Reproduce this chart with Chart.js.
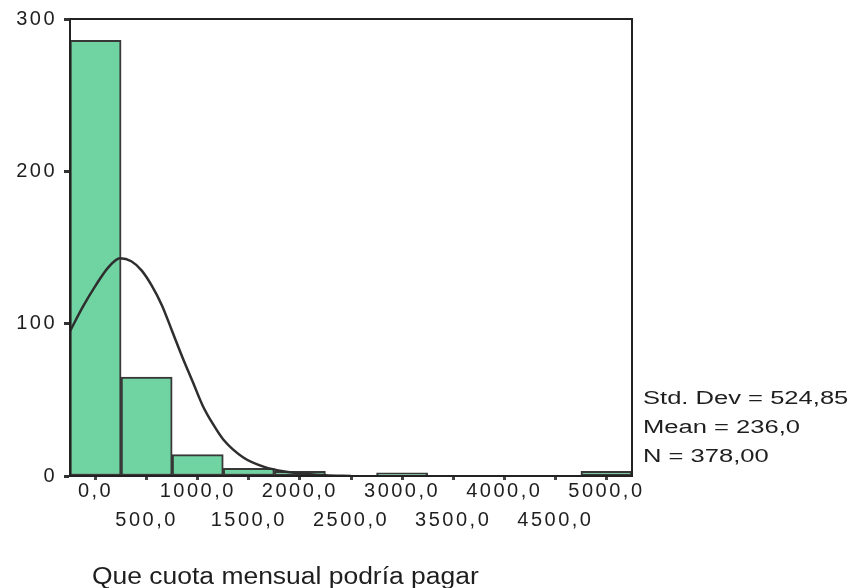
<!DOCTYPE html>
<html>
<head>
<meta charset="utf-8">
<script src="https://cdn.jsdelivr.net/npm/chart.js@4"></script>
<style>
  body { margin: 0; background: #fff; }
  canvas { display: block; }
</style>
</head>
<body>
<canvas id="histChart" width="858" height="588"></canvas>
<script>
// bin centres and counts
var binCenters = [0, 500, 1000, 1500, 2000, 2500, 3000, 3500, 4000, 4500, 5000];
var binCounts = [286, 65, 14, 5, 3, 0, 2, 0, 0, 0, 3];

// normal curve, points
var curveX = [-250, -125, 0, 125, 240, 350, 450, 550, 650, 750, 850, 950, 1050, 1150, 1250, 1450, 1650, 1850, 2050, 2250, 2500];
var curveY = [95, 111, 125, 137, 143, 141, 135, 125, 112, 95, 78, 62, 46, 34, 24, 12, 6, 3, 1.5, 0.5, 0];

var xTicks = [0, 500, 1000, 1500, 2000, 2500, 3000, 3500, 4000, 4500, 5000];
var xTickLabels = ['0,0', '500,0', '1000,0', '1500,0', '2000,0', '2500,0', '3000,0', '3500,0', '4000,0', '4500,0', '5000,0'];
var yTicks = [0, 100, 200, 300];

var statsLines = ['Std. Dev = 524,85', 'Mean = 236,0', 'N = 378,00'];
var axisTitle = 'Que cuota mensual podría pagar';

var fontFamily = '"Liberation Sans", Arial, sans-serif';

// stretch the tick text a bit, the scan is wider than plain Arial
var spacingPlugin = {
    id: 'spacing',
    beforeDraw: function (chart) { chart.ctx.letterSpacing = '2.5px'; },
    afterDraw: function (chart) { chart.ctx.letterSpacing = '0px'; }
};

var framePlugin = {
    id: 'frame',
    afterDatasetsDraw: function (chart) {
        var a = chart.chartArea;
        var ctx = chart.ctx;
        ctx.save();
        ctx.strokeStyle = '#222';
        ctx.lineWidth = 2;
        ctx.strokeRect(a.left, a.top, a.right - a.left, a.bottom - a.top);
        ctx.restore();
    }
};

var textPlugin = {
    id: 'sideText',
    afterDraw: function (chart) {
        var ctx = chart.ctx;
        ctx.save();
        ctx.letterSpacing = '0px';
        ctx.fillStyle = '#1e1e1e';
        ctx.textBaseline = 'alphabetic';
        ctx.font = '18px ' + fontFamily;
        statsLines.forEach(function (line, i) {
            ctx.save();
            ctx.translate(643, 404 + i * 29);
            ctx.scale(1.42, 1);
            ctx.fillText(line, 0, 0);
            ctx.restore();
        });
        ctx.font = '23px ' + fontFamily;
        ctx.translate(92, 584);
        ctx.scale(1.15, 1);
        ctx.fillText(axisTitle, 0, 0);
        ctx.restore();
    }
};

var ctx = document.getElementById('histChart').getContext('2d');
var histChart = new Chart(ctx, {
    type: 'bar',
    data: {
        datasets: [{
            type: 'line',
            order: 0,
            data: curveX.map(function (x, i) { return { x: x, y: curveY[i] }; }),
            borderColor: '#2e2e2e',
            borderWidth: 2.5,
            pointRadius: 0,
            fill: false,
            cubicInterpolationMode: 'monotone'
        }, {
            type: 'bar',
            order: 1,
            data: binCenters.map(function (x, i) { return { x: x, y: binCounts[i] }; }),
            backgroundColor: '#70d4a2',
            borderColor: '#383838',
            borderWidth: 2,
            borderSkipped: false,
            categoryPercentage: 1.0,
            barPercentage: 1.0
        }]
    },
    options: {
        responsive: false,
        animation: false,
        layout: { padding: { top: 17, right: 226, left: 0, bottom: 0 } },
        plugins: {
            legend: { display: false },
            tooltip: { enabled: false }
        },
        scales: {
            x: {
                type: 'linear',
                offset: false,
                min: -250,
                max: 5250,
                afterFit: function (scale) { scale.height = 112; },
                afterBuildTicks: function (scale) {
                    scale.ticks = xTicks.map(function (v) { return { value: v }; });
                },
                grid: { offset: false, drawOnChartArea: false, tickLength: 4, tickWidth: 3, tickColor: '#444' },
                border: { display: true, color: '#222', width: 2 },
                ticks: {
                    autoSkip: false,
                    maxRotation: 0,
                    padding: -3,
                    color: '#1e1e1e',
                    font: { family: fontFamily, size: 20, lineHeight: 1.45 },
                    callback: function (value, index) {
                        var label = xTickLabels[index];
                        return index % 2 === 0 ? [label, ''] : ['', label];
                    }
                }
            },
            y: {
                min: 0,
                max: 300,
                afterFit: function (scale) { scale.width = 70; },
                afterBuildTicks: function (scale) {
                    scale.ticks = yTicks.map(function (v) { return { value: v }; });
                },
                grid: { drawOnChartArea: false, tickLength: 6, tickWidth: 3, tickColor: '#333' },
                border: { display: true, color: '#222', width: 2 },
                ticks: {
                    padding: 7,
                    color: '#1e1e1e',
                    font: { family: fontFamily, size: 20 }
                }
            }
        }
    },
    plugins: [spacingPlugin, framePlugin, textPlugin]
});
</script>
</body>
</html>
